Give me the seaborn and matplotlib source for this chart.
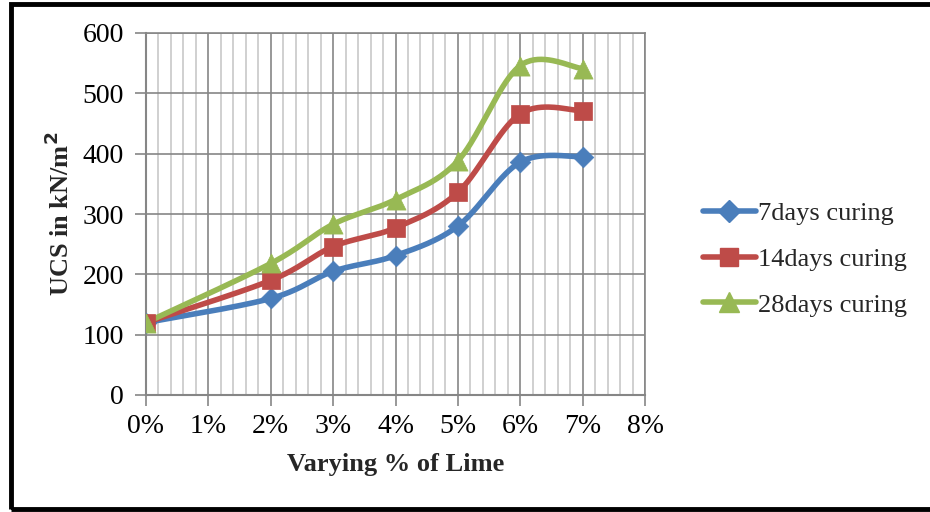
import numpy as np
import pandas as pd
import matplotlib
matplotlib.use("Agg")
import matplotlib.pyplot as plt
from matplotlib.lines import Line2D
from matplotlib.patches import Rectangle
from matplotlib.ticker import MultipleLocator, PercentFormatter
import seaborn as sns

# Lime content (%) and unconfined compressive strength (kN/m^2)
lime_pct = [0, 2, 3, 4, 5, 6, 7]
ucs_7d = [120, 160, 205, 231, 280, 386, 395]
ucs_14d = [120, 190, 246, 277, 336, 466, 471]
ucs_28d = [120, 218, 283, 324, 388, 546, 541]
series_names = ["7days curing", "14days curing", "28days curing"]
colors = ["#4a7ebb", "#be4b48", "#98b954"]
markers = ["D", "s", "^"]
marker_sizes = [110, 160, 190]


def smooth(x, y, n=40):
    """Catmull-Rom (Bezier form) smoothing through every data point."""
    x = np.asarray(x, float)
    y = np.asarray(y, float)
    px = np.concatenate([[x[0]], x, [x[-1]]])
    py = np.concatenate([[y[0]], y, [y[-1]]])
    xs, ys = [], []
    t = np.linspace(0, 1, n)
    for i in range(1, len(px) - 2):
        p0 = np.array([px[i], py[i]])
        p3 = np.array([px[i + 1], py[i + 1]])
        c1 = p0 + (p3 - np.array([px[i - 1], py[i - 1]])) / 6
        c2 = p3 - (np.array([px[i + 2], py[i + 2]]) - p0) / 6
        pts = ((1 - t)[:, None] ** 3 * p0 + 3 * ((1 - t) ** 2 * t)[:, None] * c1
               + 3 * ((1 - t) * t ** 2)[:, None] * c2 + (t ** 3)[:, None] * p3)
        xs.extend(pts[:, 0])
        ys.extend(pts[:, 1])
    return np.array(xs), np.array(ys)


sns.set_theme(style="white")
plt.rcParams["font.family"] = ["Liberation Serif", "DejaVu Serif"]

fig = plt.figure(figsize=(9.3, 5.12), dpi=100)
ax = fig.add_axes([146 / 930, 1 - 395 / 512, (645 - 146) / 930, (395 - 33) / 512])

for name, vals, c, m, ms in zip(series_names, [ucs_7d, ucs_14d, ucs_28d], colors, markers, marker_sizes):
    sx, sy = smooth(lime_pct, vals)
    curve = pd.DataFrame({"x": sx, "y": sy})
    sns.lineplot(data=curve, x="x", y="y", sort=False, estimator=None, color=c,
                 linewidth=4, ax=ax, zorder=3)
    pts = pd.DataFrame({"x": lime_pct, "y": vals})
    sns.scatterplot(data=pts, x="x", y="y", marker=m, s=ms, color=c,
                    edgecolor=c, linewidth=0.5, ax=ax, zorder=4)

ax.set_xlim(0, 8)
ax.set_ylim(0, 600)
ax.xaxis.set_major_locator(MultipleLocator(1))
ax.xaxis.set_minor_locator(MultipleLocator(0.2))
ax.yaxis.set_major_locator(MultipleLocator(100))
ax.xaxis.set_major_formatter(PercentFormatter(decimals=0))
ax.grid(True, which="major", axis="both", color="#868686", linewidth=1.2)
ax.grid(True, which="minor", axis="x", color="#c8c8c8", linewidth=1.2)
ax.set_axisbelow(True)
for side in ["top", "right"]:
    ax.spines[side].set_color("#868686")
    ax.spines[side].set_linewidth(1.2)
for side in ["left", "bottom"]:
    ax.spines[side].set_color("#868686")
    ax.spines[side].set_linewidth(1.5)
ax.tick_params(axis="both", which="major", length=8, width=1.2, color="#868686",
               direction="out", labelsize=20, pad=6, labelcolor="black")
ax.tick_params(axis="y", pad=8)
ax.tick_params(bottom=True, left=True)
ax.tick_params(axis="x", which="minor", bottom=False)

ax.set_xlabel("Varying % of Lime", fontsize=19, fontweight="bold", labelpad=10)
ax.set_ylabel("UCS in kN/m$^\\mathbf{2}$", fontsize=19, fontweight="bold", labelpad=6)

handles = [Line2D([0], [0], color=c, marker=m, markersize=ms, linewidth=4)
           for c, m, ms in zip(colors, markers, [11, 13, 14])]
fig.legend(handles, series_names, loc="center left", bbox_to_anchor=(703 / 930, 1 - 259 / 512),
           frameon=False, fontsize=19, handlelength=2.0, handletextpad=0.1,
           labelspacing=0.85, borderaxespad=0, borderpad=0)

fig.patches.append(Rectangle((11 / 930, 3 / 512), 1.0, 1 - 7 / 512, transform=fig.transFigure,
                             fill=False, edgecolor="black", linewidth=3.5, zorder=10))

fig.savefig("out.png", dpi=100)
